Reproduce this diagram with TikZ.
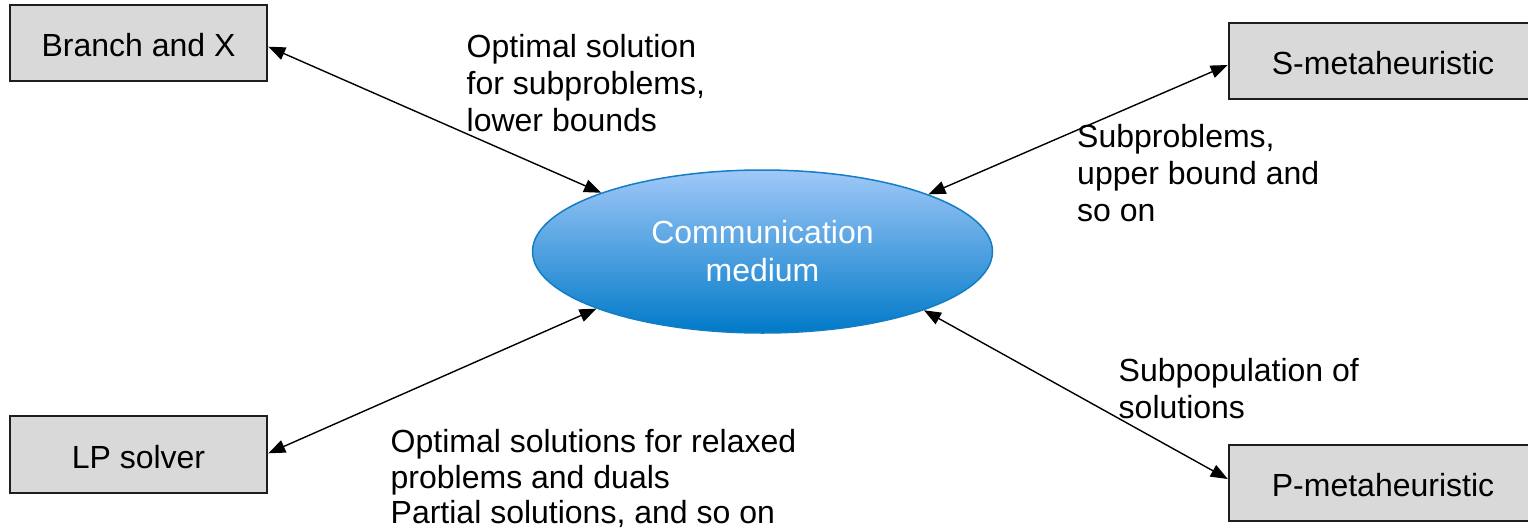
\documentclass[tikz,border=0pt]{standalone}
\usepackage{fontspec}
\setmainfont{Liberation Sans}
\usetikzlibrary{arrows.meta,shapes.geometric,calc}

\definecolor{boxfill}{RGB}{217,217,217}
\definecolor{boxline}{RGB}{30,30,30}
\definecolor{mediumtop}{RGB}{160,200,248}
\definecolor{mediumbot}{RGB}{0,122,200}
\definecolor{mediumline}{RGB}{20,125,195}

\tikzset{
  solver/.style={draw=boxline, line width=2.5pt, fill=boxfill, rectangle,
    minimum width=257pt, minimum height=76pt, inner sep=0pt,
    text height=30pt, text depth=3pt,
    font=\fontsize{32}{37}\selectfont},
  medium/.style={ellipse, draw=mediumline, line width=1.5pt,
    top color=mediumtop, bottom color=mediumbot,
    minimum width=460pt, minimum height=163pt, inner sep=0pt,
    text=white, align=center, font=\fontsize{32}{38}\selectfont},
  % notes are placed by the baseline of their last line
  note/.style={anchor=base west, inner sep=0pt, align=left,
    font=\fontsize{32}{37}\selectfont},
  link/.style={line width=1.4pt,
    {Triangle[length=17pt,width=13pt]}-{Triangle[length=17pt,width=13pt]}}
}

\begin{document}
\begin{tikzpicture}[x=1pt,y=-1pt]
\useasboundingbox (0,0) rectangle (1528,528);

% solver boxes
\node[solver] (bx) at (138.5,43) {Branch and X};
\node[solver, minimum height=77pt] (lp) at (138.5,454.5) {LP solver};
\node[solver, minimum width=308pt] (sm) at (1383,61) {S-metaheuristic};
\node[solver, minimum width=308pt] (pm) at (1383,483) {P-metaheuristic};

% shared communication medium
\node[medium] (cm) at (762.5,251.5) {Communication\\medium};

% two-way exchanges
\draw[link] ($(bx.east)+(0,3.7)$) -- (cm.160.2);
\draw[link] ($(lp.east)+(0,-1.2)$) -- (cm.199.8);
\draw[link] ($(sm.west)+(0,4)$) -- (cm.19.8);
\draw[link] ($(pm.west)+(0,-4)$) -- (cm.340.2);

% exchanged information
\node[note] (t1) at (466.5,131.7) {Optimal solution\\for subproblems,\\lower bounds};
\node[note] (t2) at (1077,221.7) {Subproblems,\\upper bound and\\so on};
\node[note] (t3) at (1118.5,418.3) {Subpopulation of\\solutions};
\node[note, font=\fontsize{32}{35.5}\selectfont] (t4) at (390.5,523.5)
  {Optimal solutions for relaxed\\problems and duals\\Partial solutions, and so on};
\end{tikzpicture}
\end{document}
